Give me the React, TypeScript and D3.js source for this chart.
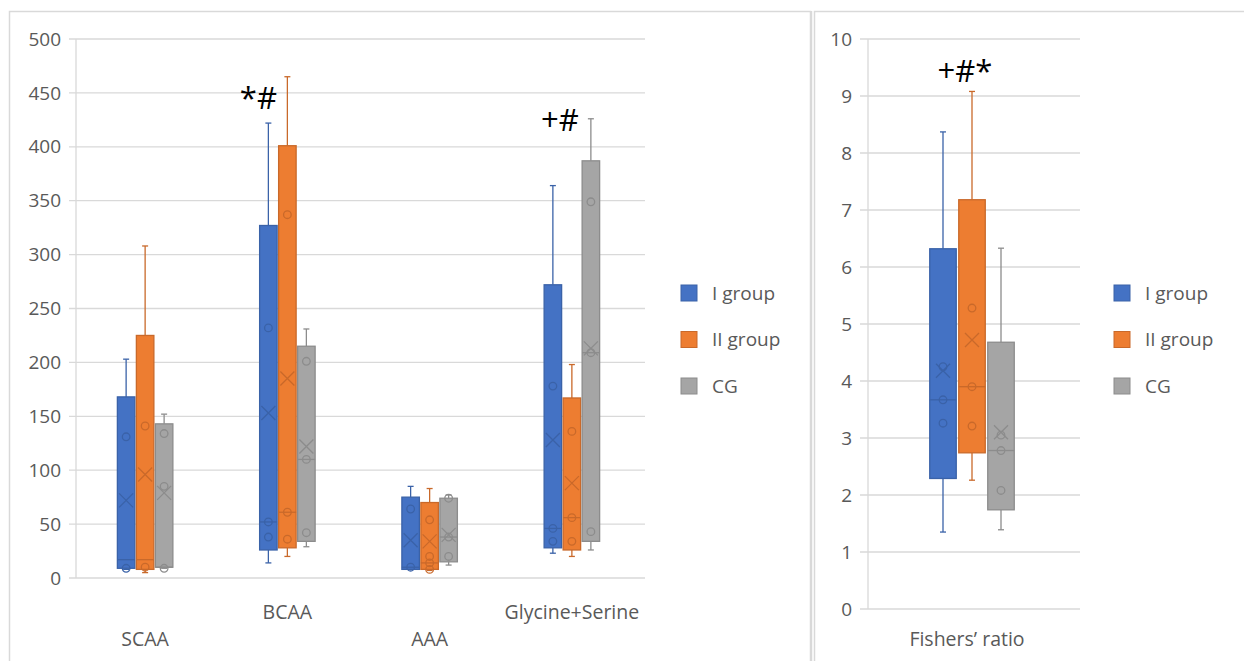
import React from 'react';
import * as d3 from 'd3';

// amino acid groups (left panel)
const categories = ['SCAA', 'BCAA', 'AAA', 'Glycine+Serine'];
const groups = ['I group', 'II group', 'CG'];
const colors = ['#4472C4', '#ED7D31', '#A5A5A5'];
const strokes = ['#3A62A8', '#C9692A', '#8C8C8C'];

const minI = [8, 14, 8, 23];
const q1I = [9, 26, 8, 28];
const medI = [17, 52, 10, 46];
const q3I = [168, 327, 75, 272];
const maxI = [203, 422, 85, 364];
const meanI = [72, 153, 35, 128];
const ptsI = [[131, 9], [232, 52, 38], [64, 10], [178, 46, 34]];

const minII = [5, 20, 7, 20];
const q1II = [8, 28, 8, 26];
const medII = [17, 61, 14, 56];
const q3II = [225, 401, 70, 167];
const maxII = [308, 465, 83, 198];
const meanII = [96, 185, 34, 88];
const ptsII = [[141, 10], [337, 61, 36], [54, 20, 14, 8], [136, 56, 34]];

const minCG = [9, 29, 12, 26];
const q1CG = [10, 34, 15, 34];
const medCG = [10, 110, 38, 209];
const q3CG = [143, 215, 74, 387];
const maxCG = [152, 231, 77, 426];
const meanCG = [79, 122, 40, 213];
const ptsCG = [[134, 85, 9], [201, 110, 42], [74, 38, 20], [349, 209, 43]];

// significance marks and the level they sit at
const leftMarks = ['', '*#', '', '+#'];
const leftMarkLevel = [0, 435, 0, 415];

// Fishers' ratio (right panel)
const fisherCat = ["Fishers\u2019 ratio"];
const fMin = [1.35, 2.26, 1.39];
const fQ1 = [2.29, 2.74, 1.74];
const fMed = [3.67, 3.9, 2.78];
const fQ3 = [6.32, 7.18, 4.68];
const fMax = [8.37, 9.08, 6.33];
const fMean = [4.18, 4.72, 3.1];
const fPts = [[4.25, 3.67, 3.26], [5.28, 3.9, 3.21], [3.05, 2.78, 2.08]];
const fisherMark = '+#*';
const fisherMarkLevel = 9.25;

const leftTicks = d3.range(0, 501, 50);
const rightTicks = d3.range(0, 11, 1);

type Box = { min: number; q1: number; med: number; q3: number; max: number; mean: number; pts: number[] };

const leftBoxes: Box[][] = [
  [minI, q1I, medI, q3I, maxI, meanI, ptsI],
  [minII, q1II, medII, q3II, maxII, meanII, ptsII],
  [minCG, q1CG, medCG, q3CG, maxCG, meanCG, ptsCG],
].map(s => categories.map((_, i) => ({
  min: s[0][i] as number, q1: s[1][i] as number, med: s[2][i] as number,
  q3: s[3][i] as number, max: s[4][i] as number, mean: s[5][i] as number, pts: s[6][i] as number[],
})));

const rightBoxes: Box[][] = groups.map((_, g) => [{
  min: fMin[g], q1: fQ1[g], med: fMed[g], q3: fQ3[g], max: fMax[g], mean: fMean[g], pts: fPts[g],
}]);

const FONT = '"Open Sans", "Noto Sans", sans-serif';
const GRID = '#D9D9D9';
const TXT = '#595959';

function BoxMark({ b, x, w, y, g }: { b: Box; x: number; w: number; y: d3.ScaleLinear<number, number>; g: number }) {
  const cx = x + w / 2;
  const st = strokes[g];
  return (
    <g>
      <line x1={cx} x2={cx} y1={y(b.q3)} y2={y(b.max)} stroke={st} strokeWidth={1.3} />
      <line x1={cx - 3} x2={cx + 3} y1={y(b.max)} y2={y(b.max)} stroke={st} strokeWidth={1.3} />
      <line x1={cx} x2={cx} y1={y(b.q1)} y2={y(b.min)} stroke={st} strokeWidth={1.3} />
      <line x1={cx - 3} x2={cx + 3} y1={y(b.min)} y2={y(b.min)} stroke={st} strokeWidth={1.3} />
      <rect x={x} y={y(b.q3)} width={w} height={y(b.q1) - y(b.q3)} fill={colors[g]} stroke={st} strokeWidth={1.3} />
      <line x1={x} x2={x + w} y1={y(b.med)} y2={y(b.med)} stroke={st} strokeWidth={1.3} />
      <path d={`M${cx - 7},${y(b.mean) - 7}L${cx + 7},${y(b.mean) + 7}M${cx - 7},${y(b.mean) + 7}L${cx + 7},${y(b.mean) - 7}`}
        stroke={st} strokeWidth={1.3} fill="none" />
      {b.pts.map((p, i) => (
        <circle key={i} cx={cx} cy={y(p)} r={3.8} fill="none" stroke={st} strokeWidth={1.3} />
      ))}
    </g>
  );
}

function Legend({ x, y0 }: { x: number; y0: number }) {
  return (
    <g>
      {groups.map((name, i) => (
        <g key={name} transform={`translate(${x},${y0 + i * 46.5})`}>
          <rect x={0} y={-8} width={16} height={16} fill={colors[i]} stroke={strokes[i]} strokeWidth={1} />
          <text x={31} y={0} dy="0.35em" fontSize={19} fill={TXT} fontFamily={FONT}>{name}</text>
        </g>
      ))}
    </g>
  );
}

export default function App() {
  // left panel scales
  const yL = d3.scaleLinear().domain([0, 500]).range([578, 39]);
  const xL = d3.scaleBand().domain(categories).range([76, 645]);
  const slotL = 19;
  const boxL = 17.5;

  // right panel scales
  const yR = d3.scaleLinear().domain([0, 10]).range([609, 39]);
  const xR = d3.scaleBand().domain(fisherCat).range([868, 1078]);
  const slotR = 29;
  const boxR = 26.5;

  const markOffset = [0, -31, 0, -14];

  return (
    <svg width={1244} height={661} style={{ position: 'absolute', left: 0, top: 0, background: '#fff' }}>
      {/* panel frames */}
      <rect x={9.5} y={11.5} width={801} height={660} fill="#fff" stroke={GRID} strokeWidth={1.5} />
      <rect x={814.5} y={11.5} width={440} height={660} fill="#fff" stroke={GRID} strokeWidth={1.5} />
      <line x1={811.5} x2={811.5} y1={11} y2={661} stroke={GRID} strokeWidth={1.5} />

      {/* left gridlines + axis */}
      {leftTicks.map(t => (
        <g key={t}>
          <line x1={69} x2={645} y1={yL(t)} y2={yL(t)} stroke={GRID} strokeWidth={1.3} />
          <text x={61} y={yL(t)} dy="0.35em" textAnchor="end" fontSize={19} fill={TXT} fontFamily={FONT}>{t}</text>
        </g>
      ))}
      <line x1={76} x2={76} y1={yL(500)} y2={yL(0)} stroke={GRID} strokeWidth={1.3} />
      {categories.map((c, i) => (
        <text key={c} x={(xL(c) as number) + xL.bandwidth() / 2 - 2} y={i % 2 === 0 ? 639 : 612} dy="0.35em"
          textAnchor="middle" fontSize={19.5} fill={TXT} fontFamily={FONT}>{c}</text>
      ))}

      {/* left boxes */}
      {leftBoxes.map((series, g) => series.map((b, i) => {
        const c = (xL(categories[i]) as number) + xL.bandwidth() / 2 - 2;
        const x = c - 1.5 * slotL + g * slotL + (slotL - boxL) / 2;
        return <BoxMark key={`${g}-${i}`} b={b} x={x} w={boxL} y={yL} g={g} />;
      }))}
      {leftMarks.map((m, i) => {
        if (!m) return null;
        const c = (xL(categories[i]) as number) + xL.bandwidth() / 2;
        return <text key={i} x={c + markOffset[i]} y={yL(leftMarkLevel[i])} textAnchor="middle" fontSize={31}
          fill="#000" fontFamily={FONT}>{m}</text>;
      })}
      <Legend x={681} y0={293} />

      {/* right gridlines + axis */}
      {rightTicks.map(t => (
        <g key={t}>
          <line x1={860} x2={1080} y1={yR(t)} y2={yR(t)} stroke={GRID} strokeWidth={1.3} />
          <text x={852} y={yR(t)} dy="0.35em" textAnchor="end" fontSize={19} fill={TXT} fontFamily={FONT}>{t}</text>
        </g>
      ))}
      <line x1={868} x2={868} y1={yR(10)} y2={yR(0)} stroke={GRID} strokeWidth={1.3} />
      <text x={(xR(fisherCat[0]) as number) + xR.bandwidth() / 2 - 6} y={639} dy="0.35em" textAnchor="middle"
        fontSize={19.5} fill={TXT} fontFamily={FONT}>{fisherCat[0]}</text>
      {rightBoxes.map((series, g) => {
        const c = (xR(fisherCat[0]) as number) + xR.bandwidth() / 2 - 1;
        const x = c - 1.5 * slotR + g * slotR + (slotR - boxR) / 2;
        return <BoxMark key={g} b={series[0]} x={x} w={boxR} y={yR} g={g} />;
      })}
      <text x={965} y={yR(fisherMarkLevel)} textAnchor="middle" fontSize={31} fill="#000" fontFamily={FONT}>{fisherMark}</text>
      <Legend x={1114} y0={293} />
    </svg>
  );
}
